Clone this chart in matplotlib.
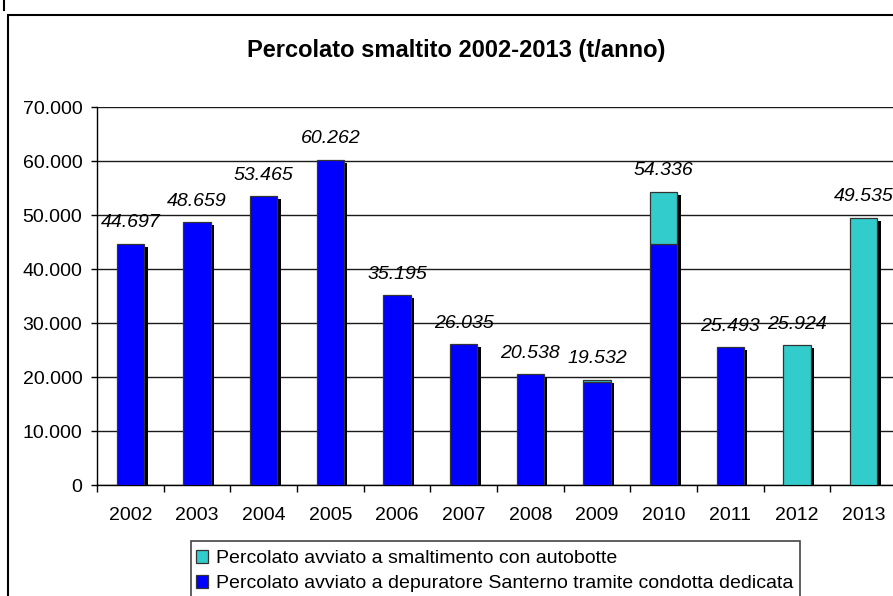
import matplotlib
matplotlib.use("Agg")
import matplotlib.pyplot as plt
import numpy as np
from matplotlib.patches import Rectangle
from matplotlib.lines import Line2D
from matplotlib.transforms import ScaledTranslation

# --- data (t/anno) ---
years = ["2002", "2003", "2004", "2005", "2006", "2007",
         "2008", "2009", "2010", "2011", "2012", "2013"]
depuratore = [44697, 48659, 53465, 60262, 35195, 26035,
              20538, 19132, 44570, 25493, 0, 0]
autobotte = [0, 0, 0, 0, 0, 0, 0, 400, 9766, 0, 25924, 49535]
totali = [44697, 48659, 53465, 60262, 35195, 26035,
          20538, 19532, 54336, 25493, 25924, 49535]
y_ticks = [0, 10000, 20000, 30000, 40000, 50000, 60000, 70000]

label_autobotte = "Percolato avviato a smaltimento con autobotte"
label_depuratore = "Percolato avviato a depuratore Santerno tramite condotta dedicata"
title = "Percolato smaltito 2002-2013 (t/anno)"

BLUE = "#0000FF"
CYAN = "#33CCCC"

W, H, DPI = 893, 596, 100
plt.rcParams["font.family"] = ["Liberation Sans", "DejaVu Sans"]


def fx(px):
    return px / W


def fy(py):
    return 1 - py / H


fig = plt.figure(figsize=(W / DPI, H / DPI), dpi=DPI)
fig.patch.set_facecolor("white")

ax = fig.add_axes([fx(97), fy(485), fx(897) - fx(97), fy(107) - fy(485)])

x = np.arange(len(years))
bw = 0.41

# drop shadow behind each full column
shadow_off = ax.transData + ScaledTranslation(3.5 / DPI, -3 / DPI, fig.dpi_scale_trans)
shadows = ax.bar(x, totali, bw, color="black", linewidth=0, zorder=2)
for p in shadows:
    p.set_transform(shadow_off)

idx_d = [i for i, v in enumerate(depuratore) if v > 0]
idx_a = [i for i, v in enumerate(autobotte) if v > 0]

bars_d = ax.bar([x[i] for i in idx_d], [depuratore[i] for i in idx_d], bw,
                color=BLUE, edgecolor="#333333", linewidth=0.9, zorder=3)
bars_a = ax.bar([x[i] for i in idx_a], [autobotte[i] for i in idx_a], bw,
                bottom=[depuratore[i] for i in idx_a],
                color=CYAN, edgecolor="#333333", linewidth=0.9, zorder=3)

# value labels above the columns
for xi, tot in zip(x, totali):
    ax.annotate(f"{tot:,}".replace(",", "."), (xi, tot),
                xytext=(0, 15), textcoords="offset points",
                ha="center", va="center", fontsize=14, style="italic",
                color="black", zorder=5, annotation_clip=False)

ax.set_xlim(-0.5, len(years) - 0.5)
ax.set_ylim(0, 70000)

ax.set_yticks(y_ticks)
ax.set_yticklabels([f"{v:,}".replace(",", ".") for v in y_ticks], fontsize=14)
ax.yaxis.grid(True, color="#1a1a1a", linewidth=1.0)
ax.set_axisbelow(True)

ax.set_xticks(np.arange(-0.5, len(years), 1.0))
ax.set_xticklabels([])
ax.set_xticks(x, minor=True)
ax.set_xticklabels(years, minor=True, fontsize=14)
ax.tick_params(axis="x", which="major", length=5, width=1, direction="out", color="black")
ax.tick_params(axis="x", which="minor", length=0, pad=16)
ax.tick_params(axis="y", length=4.5, width=1, direction="out", pad=6, color="black")

for side in ("top", "right"):
    ax.spines[side].set_visible(False)
for side in ("left", "bottom"):
    ax.spines[side].set_color("black")
    ax.spines[side].set_linewidth(1.0)

# title
fig.text(fx(456), fy(51), title, ha="center", va="center",
         fontsize=17, fontweight="bold")

# outer chart border
fig.add_artist(Rectangle((fx(8), -0.2), 1.2, fy(15) + 0.2, transform=fig.transFigure,
                         facecolor="none", edgecolor="black", linewidth=1.5,
                         clip_on=False))

# legend box and entries
fig.add_artist(Rectangle((fx(191), -0.2), fx(800) - fx(191), fy(541) + 0.2,
                         transform=fig.transFigure, facecolor="white",
                         edgecolor="#444444", linewidth=1.2, clip_on=False))
fig.legend([bars_a, bars_d], [label_autobotte, label_depuratore],
           loc="upper left", bbox_to_anchor=(fx(196), fy(550)),
           frameon=False, fontsize=14, handlelength=0.62, handleheight=0.62,
           handletextpad=0.4, labelspacing=0.4, borderpad=0, borderaxespad=0)

# stray stroke at the top-left corner
fig.add_artist(Line2D([fx(4), fx(4)], [fy(0), fy(10)], transform=fig.transFigure,
                      color="black", linewidth=1.5))

fig.savefig("out.png", dpi=DPI, facecolor="white")
